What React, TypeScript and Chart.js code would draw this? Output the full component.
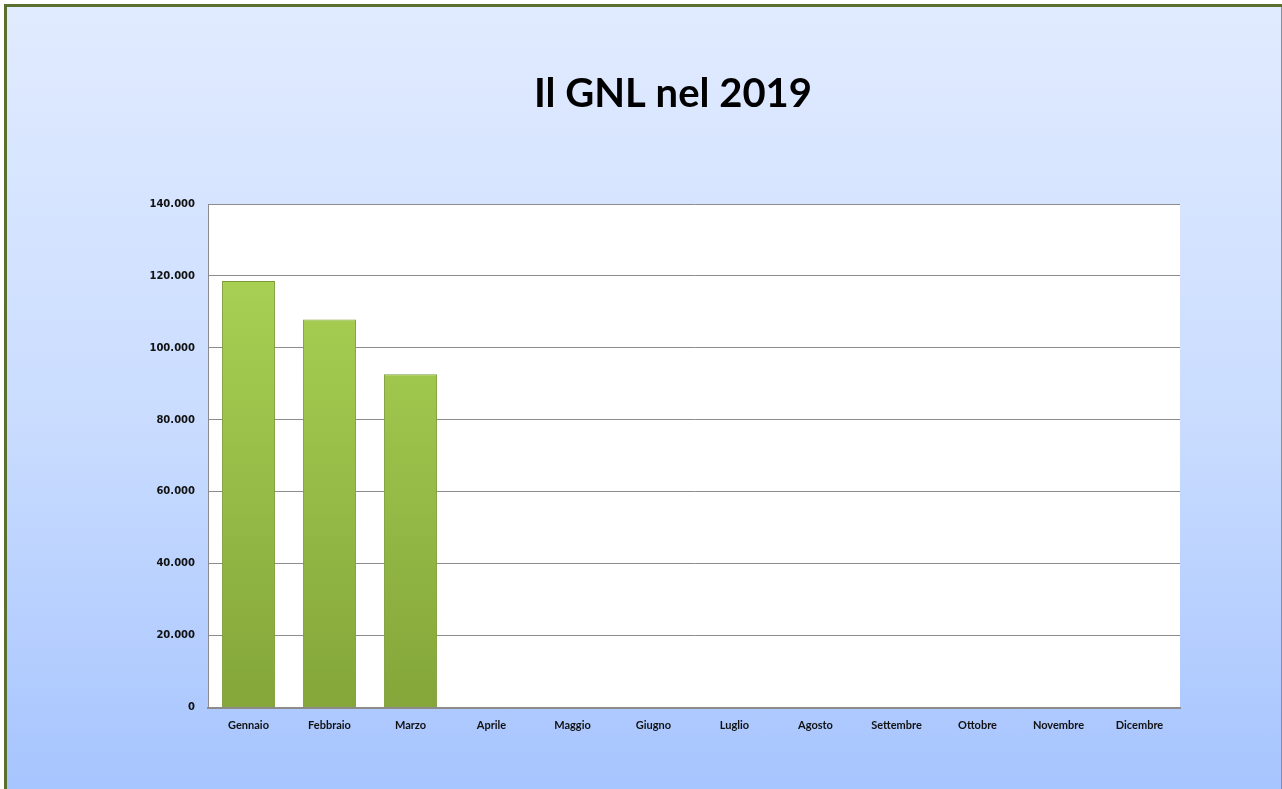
import React, { useEffect, useRef } from "react";
import { Chart, registerables } from "chart.js";

Chart.register(...registerables);

const categories = [
  "Gennaio", "Febbraio", "Marzo", "Aprile", "Maggio", "Giugno",
  "Luglio", "Agosto", "Settembre", "Ottobre", "Novembre", "Dicembre",
];
const values: (number | null)[] = [118600, 107900, 92700, null, null, null, null, null, null, null, null, null];
const yMin = 0;
const yMax = 140000;
const yStep = 20000;
const titleText = "Il GNL nel 2019";

const fmt = (v: number) => String(Math.round(v)).replace(/\B(?=(\d{3})+(?!\d))/g, ".");

const plotBg = {
  id: "plotBg",
  afterLayout(chart: any) {
    // centre the title over the whole chart box (which extends beyond the view)
    if (chart.titleBlock) {
      chart.titleBlock.left = 162;
    }
  },
  beforeDraw(chart: any) {
    const { ctx, chartArea: a } = chart;
    ctx.save();
    ctx.fillStyle = "#ffffff";
    ctx.fillRect(a.left, a.top, a.right - a.left, a.bottom - a.top);
    ctx.restore();
  },
};

export default function App() {
  const ref = useRef<HTMLCanvasElement>(null);
  useEffect(() => {
    document.body.style.overflow = "hidden";
    const chart = new Chart(ref.current!, {
      type: "bar",
      data: {
        labels: categories,
        datasets: [
          {
            data: values,
            backgroundColor: (c: any) => {
              const a = c.chart.chartArea;
              if (!a) return "#9cc24c";
              const g = c.chart.ctx.createLinearGradient(0, a.top, 0, a.bottom);
              g.addColorStop(0, "#aed757");
              g.addColorStop(1, "#84a63a");
              return g;
            },
            borderColor: "#7d9c38",
            borderWidth: 1,
            categoryPercentage: 0.8,
            barPercentage: 0.82,
          },
        ],
      },
      options: {
        responsive: false,
        animation: false,
        layout: { padding: { left: 0, right: 162, top: 0, bottom: 46 } },
        plugins: {
          legend: { display: false },
          tooltip: { enabled: false },
          title: {
            display: true,
            text: titleText,
            color: "#000000",
            font: { family: "Lato", weight: "bold", size: 40, lineHeight: 1.2 },
            padding: { top: 70, bottom: 86 },
          },
        },
        scales: {
          x: {
            grid: { display: false, drawTicks: false },
            border: { display: true, color: "#8c8c8c", width: 2 },
            ticks: {
              color: "#111111",
              padding: 11,
              font: { family: "Lato", weight: "bold", size: 11 },
              maxRotation: 0,
              autoSkip: false,
            },
          },
          y: {
            min: yMin,
            max: yMax,
            afterFit: (s: any) => { s.width = 204; },
            grid: { color: "#8c8c8c", lineWidth: 1, drawTicks: false },
            border: { display: true, color: "#8c8c8c", width: 1 },
            ticks: {
              stepSize: yStep,
              color: "#111111",
              padding: 13,
              font: { family: "DejaVu Sans", weight: "bold", size: 10 },
              callback: (v: any) => fmt(Number(v)),
            },
          },
        },
      } as any,
      plugins: [plotBg],
    });
    return () => chart.destroy();
  }, []);

  return (
    <div style={{ position: "fixed", left: 0, top: 0, width: 1282, height: 789, overflow: "hidden" }}>
      <div
        style={{
          position: "absolute",
          left: 4,
          top: 4,
          width: 1400,
          height: 900,
          borderTop: "3px solid #5b6f2f",
          borderLeft: "3px solid #5b6f2f",
          background: "linear-gradient(to bottom, #e1ebff 0px, #c9dcff 420px, #a6c4fe 785px, #a6c4fe 900px)",
        }}
      />
      <div style={{ position: "absolute", left: 1281, top: 7, width: 1, height: 782, background: "#8a8f98" }} />
      <canvas ref={ref} width={1338} height={789} style={{ position: "absolute", left: 4, top: 0 }} />
    </div>
  );
}
